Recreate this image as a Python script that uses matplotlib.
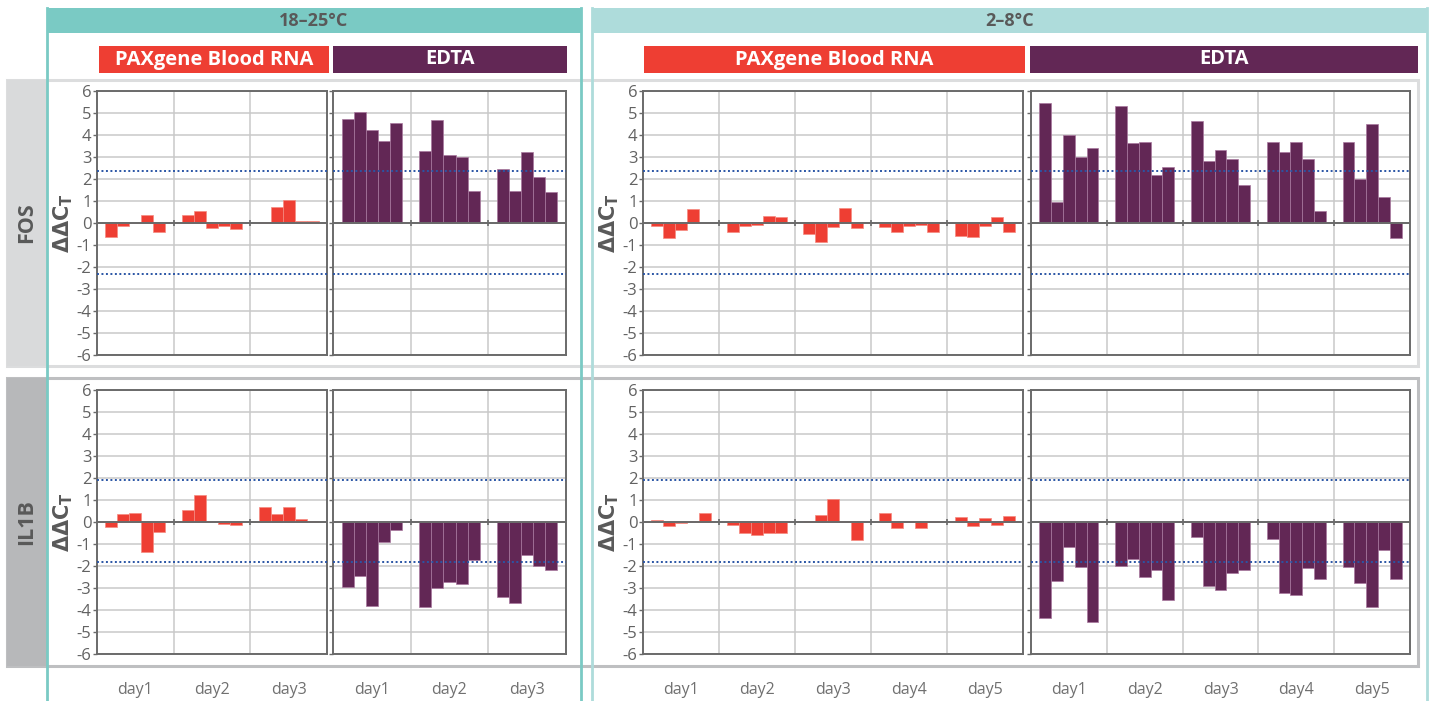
import matplotlib
matplotlib.use("Agg")
import matplotlib.pyplot as plt
from matplotlib.patches import Rectangle
import numpy as np

plt.rcParams['font.family'] = ['Open Sans', 'DejaVu Sans']
plt.rcParams['axes.unicode_minus'] = False

# ---- data (ddCt per day, 5 donors each) ----
temps = ["18–25°C", "2–8°C"]
tubes = ["PAXgene Blood RNA", "EDTA"]
genes = ["FOS", "IL1B"]
days_rt = ["day1", "day2", "day3"]
days_cold = ["day1", "day2", "day3", "day4", "day5"]

fos_rt_pax = [[-0.64, -0.12, 0.02, 0.38, -0.41],
              [0.37, 0.56, -0.23, -0.13, -0.27],
              [0.06, 0.71, 1.03, 0.10, 0.10]]
fos_rt_edta = [[4.73, 5.05, 4.25, 3.73, 4.56],
               [3.29, 4.67, 3.11, 3.02, 1.47],
               [2.45, 1.47, 3.25, 2.07, 1.42]]
fos_cold_pax = [[-0.14, -0.70, -0.32, 0.62, 0.02],
                [-0.41, -0.14, -0.08, 0.33, 0.26],
                [-0.52, -0.85, -0.18, 0.67, -0.23],
                [-0.18, -0.41, -0.14, -0.08, -0.41],
                [-0.59, -0.65, -0.14, 0.29, -0.41]]
fos_cold_edta = [[5.44, 0.94, 3.98, 2.99, 3.40],
                 [5.30, 3.62, 3.69, 2.17, 2.55],
                 [4.65, 2.80, 3.31, 2.93, 1.75],
                 [3.66, 3.22, 3.69, 2.89, 0.56],
                 [3.69, 2.00, 4.50, 1.19, -0.70]]
il1b_rt_pax = [[-0.21, 0.38, 0.43, -1.35, -0.44],
               [0.56, 1.25, 0.06, -0.08, -0.12],
               [0.67, 0.38, 0.67, 0.15, 0.06]]
il1b_rt_edta = [[-2.96, -2.45, -3.80, -0.93, -0.35],
                [-3.86, -3.00, -2.74, -2.83, -1.73],
                [-3.39, -3.68, -1.50, -2.02, -2.17]]
il1b_cold_pax = [[0.10, -0.17, -0.03, 0.06, 0.43],
                 [-0.12, -0.50, -0.59, -0.50, -0.50],
                 [0.06, 0.33, 1.05, 0.06, -0.84],
                 [0.43, -0.27, 0.06, -0.27, 0.06],
                 [0.24, -0.17, 0.20, -0.12, 0.27]]
il1b_cold_edta = [[-4.35, -2.66, -1.12, -2.05, -4.55],
                  [-2.00, -1.70, -2.52, -2.20, -3.55],
                  [-0.68, -2.92, -3.08, -2.34, -2.19],
                  [-0.77, -3.22, -3.34, -2.11, -2.57],
                  [-2.05, -2.75, -3.88, -1.27, -2.57]]

fos_thr = [2.37, -2.32]
il1b_thr = [1.92, -1.84]

# ---- colours ----
RED = "#EE3E33"
PURPLE = "#622755"
TEAL_RT = "#7ACAC4"
TEAL_COLD = "#AEDCDB"
GRID = "#C9C9C9"
SPINE = "#6A6A6A"
TXT = "#595959"
THR = "#2A55A5"

W, H = 1432, 701
fig = plt.figure(figsize=(W / 100, H / 100), dpi=100)

# background axes in pixel coordinates for the frames / headers
bg = fig.add_axes([0, 0, 1, 1], zorder=0)
bg.set_xlim(0, W)
bg.set_ylim(H, 0)
bg.axis("off")


def px_axes(x0, y0, x1, y1):
    return fig.add_axes([x0 / W, 1 - y1 / H, (x1 - x0) / W, (y1 - y0) / H], zorder=2)


# row frames and gene label boxes
rows = [(80, 366, "#DCDDDE", "#D9DADB"), (378, 666, "#BEBFC1", "#B7B8BA")]
for (y0, y1, ec, fc), g in zip(rows, genes):
    bg.add_patch(Rectangle((7, y0), 1411, y1 - y0, fill=False, ec=ec, lw=2.2))
    bg.add_patch(Rectangle((7, y0), 40, y1 - y0, fc=fc, ec="none"))
    bg.text(27, (y0 + y1) / 2, g, rotation=90, ha="center", va="center",
            fontsize=15.5, fontweight="bold", color=TXT)

# temperature headers and teal borders
blocks = [(47, 581, TEAL_RT, temps[0]), (592, 1427, TEAL_COLD, temps[1])]
for x0, x1, col, label in blocks:
    bg.add_patch(Rectangle((x0, 8), x1 - x0, 25, fc=col, ec="none", zorder=3))
    bg.plot([x0, x0], [8, H], color=col, lw=2, zorder=3)
    bg.plot([x1, x1], [8, H], color=col, lw=2, zorder=3)
    bg.text((x0 + x1) / 2, 21, label, ha="center", va="center",
            fontsize=13, fontweight="bold", color=TXT, zorder=4)

# tube label boxes
tube_boxes = [(99, 329, 0), (333, 567, 1), (644, 1025, 0), (1030, 1418, 1)]
for x0, x1, k in tube_boxes:
    bg.add_patch(Rectangle((x0, 46), x1 - x0, 27, fc=[RED, PURPLE][k], ec="none"))
    bg.text((x0 + x1) / 2, 59.5, tubes[k], ha="center", va="center",
            fontsize=14.5, fontweight="bold", color="white")

# panels: (x0, x1, temp index, tube index, days, show y labels)
row_y = [(91, 355), (390, 654)]
panel_cols = [
    (97, 327, 0, 0, days_rt, True),
    (333, 566, 0, 1, days_rt, False),
    (643, 1023, 1, 0, days_cold, True),
    (1031, 1410, 1, 1, days_cold, False),
]
data = {
    ("FOS", 0, 0): fos_rt_pax, ("FOS", 0, 1): fos_rt_edta,
    ("FOS", 1, 0): fos_cold_pax, ("FOS", 1, 1): fos_cold_edta,
    ("IL1B", 0, 0): il1b_rt_pax, ("IL1B", 0, 1): il1b_rt_edta,
    ("IL1B", 1, 0): il1b_cold_pax, ("IL1B", 1, 1): il1b_cold_edta,
}
thresholds = {"FOS": fos_thr, "IL1B": il1b_thr}

bw = 0.156
for r, gene in enumerate(genes):
    y0, y1 = row_y[r]
    for x0, x1, t, k, days, ylab in panel_cols:
        ax = px_axes(x0, y0, x1, y1)
        vals = np.array(data[(gene, t, k)])
        nd = len(days)
        col = [RED, PURPLE][k]
        edge = ["#F58A80", "#A8789E"][k]
        for i in range(nd):
            xs = i + 0.11 + bw * np.arange(vals.shape[1])
            ax.bar(xs, vals[i], width=bw, align="edge", color=col,
                   edgecolor=edge, linewidth=0.5, zorder=3)
        ax.set_xlim(0, nd)
        ax.set_ylim(-6, 6)
        ax.set_yticks(np.arange(-6, 7))
        ax.set_xticks(np.arange(1, nd), minor=True)
        ax.set_xticks([])
        ax.grid(True, which="minor", axis="x", color=GRID, lw=1.1, zorder=0)
        ax.grid(True, which="major", axis="y", color=GRID, lw=1.1, zorder=0)
        ax.tick_params(axis="x", which="minor", length=0)
        ax.tick_params(axis="y", length=3, width=1, color=SPINE, pad=1,
                       labelsize=12, labelcolor="#626262", labelleft=ylab)
        for s in ax.spines.values():
            s.set_color(SPINE)
            s.set_linewidth(1.4)
        ax.axhline(0, color=SPINE, lw=1.4, zorder=4)
        ax.plot(np.arange(1, nd), np.zeros(nd - 1), ls="none", marker="|",
                ms=5, mew=1.2, color=SPINE, zorder=4, clip_on=False)
        for thr in thresholds[gene]:
            ax.axhline(thr, color=THR, lw=1.4, ls=(0, (1, 1.3)), zorder=5)
        if ylab:
            ax.set_ylabel(r"$\mathbf{\Delta\Delta C_T}$", fontsize=15, color=TXT,
                          labelpad=1)
        if r == 1:
            ax.set_xticks(np.arange(nd) + 0.5)
            ax.set_xticklabels(days)
            ax.tick_params(axis="x", which="major", length=0, pad=20,
                           labelsize=11.5, labelcolor="#707070")

fig.savefig("out.png", dpi=100)
